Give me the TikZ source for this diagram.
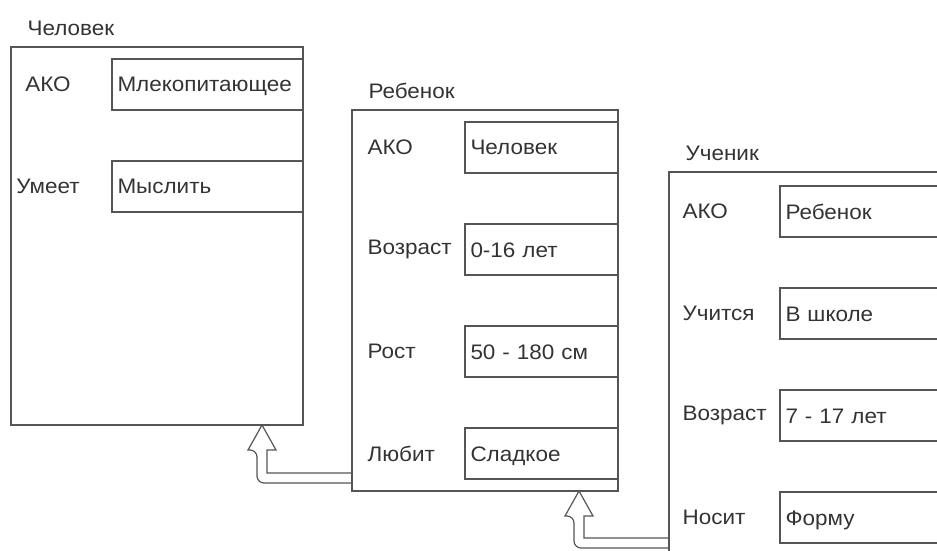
\documentclass[tikz,border=0pt]{standalone}
\usepackage{fontspec}
\setmainfont{Liberation Sans}[FakeStretch=1.07]
\usetikzlibrary{calc, positioning}

\definecolor{linegray}{HTML}{555555}
\definecolor{textgray}{HTML}{333333}

\begin{document}
\begin{tikzpicture}[x=1pt, y=1pt, line width=1.2pt,
  every node/.style={font=\fontsize{21}{25}\selectfont, text=textgray},
  frame/.style={draw=linegray, anchor=north west, inner sep=0pt, outer sep=0pt},
  slot/.style={draw=linegray, anchor=north east, minimum height=51pt,
    inner sep=0pt, inner xsep=5.5pt, outer sep=0pt, text width=#1, align=left,
    text height=15pt, text depth=0pt},
  title/.style={anchor=base west, inner sep=0pt},
  attr/.style={inner sep=0pt},
  isa/.style={draw=linegray, line join=miter}]

  \useasboundingbox (0,0) rectangle (937,550);
  \clip (0,0) rectangle (937,550);

  % фреймы
  \node[frame, minimum width=292pt, minimum height=378pt] (chelovek) at (11,503) {};
  \node[frame, minimum width=266pt, minimum height=381pt] (rebenok) at (352,440) {};
  \node[frame, minimum width=300pt, minimum height=384pt] (uchenik) at (669,378) {};

  % имена фреймов
  \node[title] at ($(chelovek.north west)+(16,11)$) {Человек};
  \node[title] at ($(rebenok.north west)+(16,11)$)  {Ребенок};
  \node[title] at ($(uchenik.north west)+(16,11)$)  {Ученик};

  % слоты
  \foreach \k/\attr/\val in {0/АКО/Млекопитающее, 1/Умеет/Мыслить} {
    \node[slot=180pt] (ch\k) at ($(chelovek.north east)+(0,-12-102*\k)$) {\val};
    \node[attr] at ($(ch\k.west)+(-64,0)$) {\attr};
  }
  \foreach \k/\attr/\val in {0/АКО/Человек, 1/Возраст/0-16 лет,
      2/Рост/50 - 180 см, 3/Любит/Сладкое} {
    \node[slot=142pt] (rb\k) at ($(rebenok.north east)+(0,-12-102*\k)$) {\val};
    \node[attr, anchor=west] at ($(rebenok.west |- rb\k.west)+(15,0)$) {\attr};
  }
  \foreach \k/\attr/\val in {0/АКО/Ребенок, 1/Учится/В школе,
      2/Возраст/7 - 17 лет, 3/Носит/Форму} {
    \node[slot=178pt] (uc\k) at ($(uchenik.north east)+(0,-14-102*\k)$) {\val};
    \node[attr, anchor=west] at ($(uchenik.west |- uc\k.west)+(13,0)$) {\attr};
  }

  % связи AKO
  \coordinate (t1) at ($(chelovek.south east)+(-41,0)$);
  \coordinate (e1) at ($(rebenok.south west)+(0,13)$);
  \draw[isa] ($(e1)+(0,-5)$) [rounded corners=7pt] -| ($(t1)+(-5,-25)$)
    [sharp corners] -- ++(-9,0) -- (t1) -- ++(14,-25) -- ++(-9,0) |- ($(e1)+(0,5)$);

  \coordinate (t2) at ($(rebenok.south east)+(-39,0)$);
  \coordinate (e2) at ($(uchenik.south west)+(0,13)$);
  \draw[isa] ($(e2)+(0,-5)$) [rounded corners=7pt] -| ($(t2)+(-5,-25)$)
    [sharp corners] -- ++(-9,0) -- (t2) -- ++(14,-25) -- ++(-9,0) |- ($(e2)+(0,5)$);
\end{tikzpicture}
\end{document}
